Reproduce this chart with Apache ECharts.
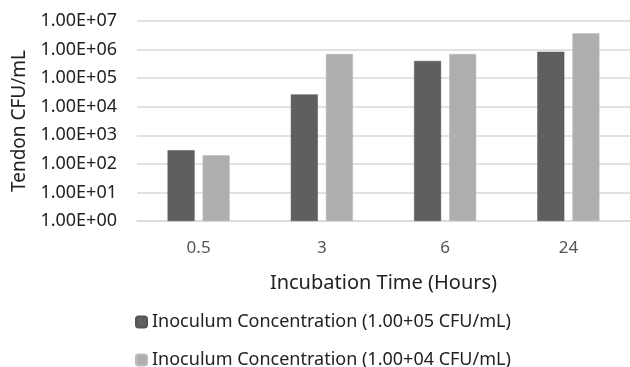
<!DOCTYPE html>
<html><head><meta charset="utf-8">
<script src="https://cdn.jsdelivr.net/npm/echarts@6/dist/echarts.min.js"></script>
<style>html,body{margin:0;padding:0;background:#fff}#c{width:630px;height:367px}</style>
</head><body><div id="c"></div>
<script>
const categories = ['0.5', '3', '6', '24'];
const seriesNames = ['Inoculum Concentration (1.00+05 CFU/mL)', 'Inoculum Concentration (1.00+04 CFU/mL)'];
const series1 = [300, 27000, 400000, 840000];
const series2 = [200, 700000, 700000, 3700000];
const yMin = 1, yMax = 1e7;
const font = 'Noto Sans';
function fmt(v) {
  const e = Math.round(Math.log10(v));
  const m = v / Math.pow(10, e);
  return m.toFixed(2) + 'E' + (e < 0 ? '-' : '+') + String(Math.abs(e)).padStart(2, '0');
}
const legendBase = {
  orient: 'vertical', left: 130,
  itemWidth: 11, itemHeight: 11,
  textStyle: { fontSize: 18, color: '#222', fontFamily: font }
};
const chart = echarts.init(document.getElementById('c'));
chart.setOption({
  animation: false,
  textStyle: { fontFamily: font },
  grid: { left: 137, right: 0, top: 21, height: 200 },
  legend: [
    Object.assign({}, legendBase, { top: 308, data: [seriesNames[0]] }),
    Object.assign({}, legendBase, { top: 346, data: [seriesNames[1]] })
  ],
  xAxis: {
    type: 'category', data: categories,
    axisLine: { lineStyle: { color: '#d9d9d9', width: 1.5 } },
    axisTick: { show: false },
    axisLabel: { fontSize: 17, color: '#555', margin: 19 },
    name: 'Incubation Time (Hours)', nameLocation: 'middle', nameGap: 52,
    nameTextStyle: { fontSize: 20, color: '#222' }
  },
  yAxis: {
    type: 'log', min: yMin, max: yMax, logBase: 10, interval: 1,
    axisLine: { show: false }, axisTick: { show: false },
    splitLine: { lineStyle: { color: '#d9d9d9', width: 1.5 } },
    axisLabel: { fontSize: 18, color: '#222', margin: 20, formatter: fmt },
    name: 'Tendon CFU/mL', nameLocation: 'middle', nameGap: 98, nameRotate: 90,
    nameTextStyle: { fontSize: 19, color: '#222' }
  },
  series: [
    { name: seriesNames[0], type: 'bar', data: series1, barWidth: 27, barGap: '30%',
      itemStyle: { color: '#5f5f5f', borderColor: '#555', borderWidth: 0.5 } },
    { name: seriesNames[1], type: 'bar', data: series2, barWidth: 27,
      itemStyle: { color: '#aeaeae', borderColor: '#bbb', borderWidth: 0.5 } }
  ]
});
</script></body></html>
